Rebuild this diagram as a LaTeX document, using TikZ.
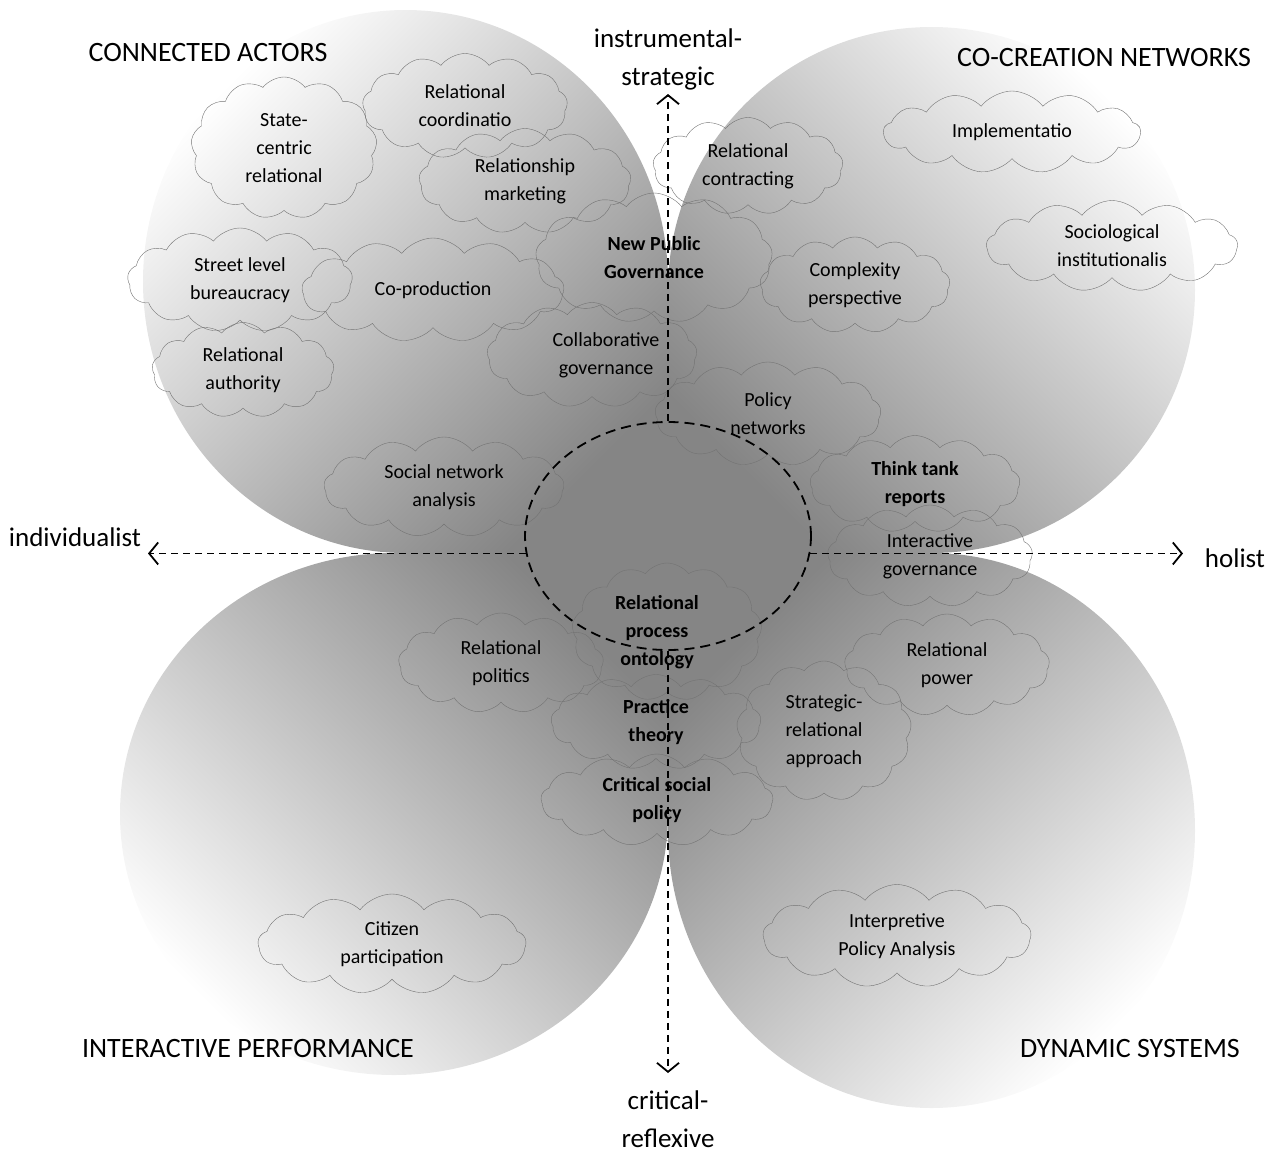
\documentclass[tikz,border=0pt]{standalone}
\usepackage{fontspec}
\setmainfont{Carlito}
\usetikzlibrary{shapes.symbols,shapes.geometric,arrows.meta,positioning}
\tikzset{
    >={Straight Barb[length=9pt,width=22pt]},
    petal/.style={top color=white, middle color=black!8, bottom color=black!48},
    idea/.style 2 args={
        cloud, cloud puffs=13, cloud puff arc=105,
        cloud ignores aspect,
        draw=black!55, thin,
        minimum width=#1pt, minimum height=#2pt,
        inner sep=0pt
    },
    every label/.style={align=center, font=\fontsize{20}{28}\selectfont, inner sep=0pt},
    strong/.style={font=\fontsize{20}{28}\selectfont\bfseries},
    dimline/.style={draw, line width=1.8pt, dash pattern=on 7pt off 5pt, ->},
    axlabel/.style={align=center, font=\fontsize{27}{38}\selectfont},
    quadrant/.style={font=\fontsize{28}{32}\selectfont}
}
\begin{document}
\begin{tikzpicture}[x=1pt,y=-1pt]
\useasboundingbox (0,0) rectangle (1270,1152);
% four teardrop quadrants, pointed at the centre
\shade[petal, shading angle=45] (668,553) -- (405.5,553)
    arc[start angle=90, end angle=360, x radius=262.5, y radius=271.5] -- cycle;
\shade[petal, shading angle=-45] (668,553) -- (668,290)
    arc[start angle=180, end angle=450, x radius=263.5, y radius=263] -- cycle;
\shade[petal, shading angle=135] (668,553) -- (394,553)
    arc[start angle=270, end angle=0, x radius=274, y radius=261] -- cycle;
\shade[petal, shading angle=-135] (668,553) -- (931.5,553)
    arc[start angle=270, end angle=540, x radius=263.5, y radius=277.5] -- cycle;

\node[quadrant] (actors) at (208,53) {CONNECTED ACTORS};
\node[quadrant] (cocreation) at (1104,58) {CO-CREATION NETWORKS};
\node[quadrant] (performance) at (248,1048) {INTERACTIVE PERFORMANCE};
\node[quadrant] (systems) at (1130,1048) {DYNAMIC SYSTEMS};

% clouds
\node[idea={186}{142}, label={center:State-\\centric\\relational}] (statecentric) at (284,148) {};
\node[idea={205}{105}, label={center:Relational\\coordinatio}] (coordination) at (465,106) {};
\node[idea={212}{105}, label={center:Relationship\\marketing}] (marketing) at (525,181) {};
\node[idea={190}{97}, label={center:Relational\\contracting}] (contracting) at (748,166) {};
\node[idea={257}{82}, label={center:Implementatio}] (implementation) at (1012,132) {};
\node[idea={251}{91}, label={center:Sociological\\institutionalis}] (sociological) at (1112,246) {};
\node[idea={237}{130}, label={[strong]center:New Public\\Governance}] (npg) at (654,258) {};
\node[idea={225}{104}, label={center:Street level\\bureaucracy}] (streetlevel) at (240,280) {};
\node[idea={262}{104}, label={center:Co-production}] (coproduction) at (433,290) {};
\node[idea={190}{96}, label={center:Complexity\\perspective}] (complexity) at (855,285) {};
\node[idea={182}{95}, label={center:Relational\\authority}] (authority) at (243,370) {};
\node[idea={210}{105}, label={[xshift=14pt]center:Collaborative\\governance}] (collaborative) at (592,355) {};
\node[idea={226}{104}, label={center:Policy\\networks}] (policynet) at (768,414) {};
\node[idea={240}{100}, label={center:Social network\\analysis}] (sna) at (444,487) {};
\node[idea={210}{97}, label={[strong]center:Think tank\\reports}] (thinktank) at (915,484) {};
\node[idea={205}{102}, label={center:Interactive\\governance}] (interactive) at (930,556) {};
\node[idea={190}{138}, label={[strong, xshift=-10pt]center:Relational\\process\\ontology}] (ontology) at (667,632) {};
\node[idea={205}{100}, label={center:Relational\\politics}] (politics) at (501,663) {};
\node[idea={205}{102}, label={center:Relational\\power}] (power) at (947,665) {};
\node[idea={210}{95}, label={[strong]center:Practice\\theory}] (practice) at (656,722) {};
\node[idea={175}{140}, label={center:Strategic-\\relational\\approach}] (strategic) at (824,731) {};
\node[idea={232}{92}, label={[strong]center:Critical social\\policy}] (critical) at (657,800) {};
\node[idea={268}{100}, label={center:Citizen\\participation}] (citizen) at (392,944) {};
\node[idea={268}{103}, label={center:Interpretive\\Policy Analysis}] (interpretive) at (897,936) {};

% centre and axes
\node[draw, ellipse, minimum width=286pt, minimum height=228pt, inner sep=0pt,
      line width=1.8pt, dash pattern=on 10pt off 6pt] (core) at (668,536) {};
\coordinate (tipnorth) at (668,94);
\coordinate (tipsouth) at (668,1073);
\coordinate (tipwest) at (148,553);
\coordinate (tipeast) at (1183,553);
\draw[dimline] (core.north) -- (tipnorth);
\draw[dimline] (core.south) -- (tipsouth);
\draw[dimline] (core.187) -- (core.187 -| tipwest);
\draw[dimline] (core.-7) -- (core.-7 -| tipeast);

\node[axlabel] (instrumental) at (668,59) {instrumental-\\strategic};
\node[axlabel] (reflexive) at (668,1119) {critical-\\reflexive};
\node[axlabel] (individualist) at (75,537) {individualist};
\node[axlabel] (holist) at (1235,558) {holist};
\end{tikzpicture}
\end{document}
